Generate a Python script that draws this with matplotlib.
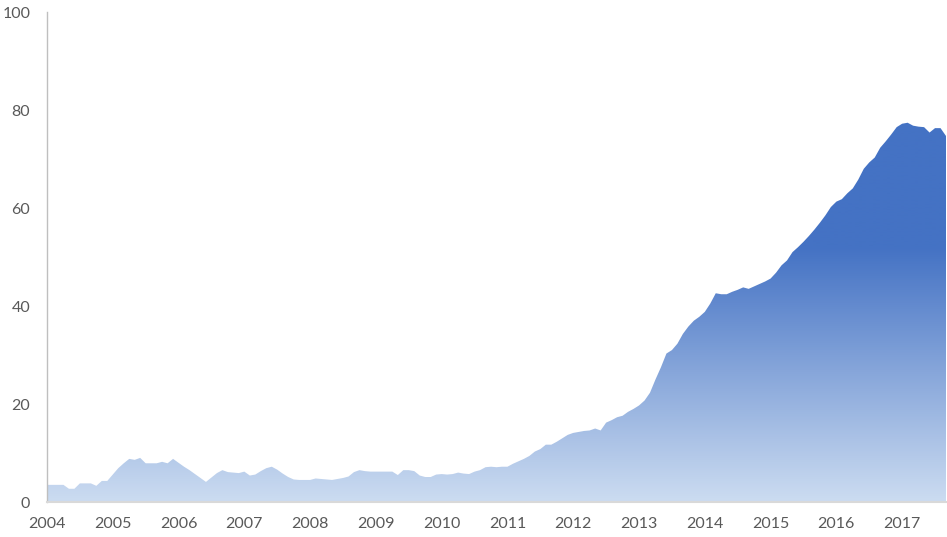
import numpy as np
import matplotlib
matplotlib.use("Agg")
from matplotlib import pyplot as plt
from matplotlib.colors import LinearSegmentedColormap
from matplotlib.patches import PathPatch

# monthly values, Jan 2004 .. Sep 2017
y2004 = [3.5, 3.5, 3.5, 3.5, 2.7, 2.7, 3.8, 3.8, 3.8, 3.3, 4.3, 4.3]
y2005 = [5.6, 6.9, 7.9, 8.8, 8.6, 9.0, 7.9, 7.9, 7.9, 8.2, 7.9, 8.8]
y2006 = [8.0, 7.2, 6.5, 5.7, 4.9, 4.1, 5.0, 5.9, 6.5, 6.1, 6.0, 5.9]
y2007 = [6.2, 5.4, 5.6, 6.3, 6.9, 7.2, 6.6, 5.8, 5.1, 4.6, 4.5, 4.5]
y2008 = [4.5, 4.8, 4.7, 4.6, 4.5, 4.7, 4.9, 5.2, 6.1, 6.5, 6.3, 6.2]
y2009 = [6.2, 6.2, 6.2, 6.2, 5.5, 6.5, 6.5, 6.3, 5.4, 5.1, 5.1, 5.6]
y2010 = [5.7, 5.6, 5.7, 6.0, 5.8, 5.7, 6.2, 6.5, 7.1, 7.2, 7.1, 7.2]
y2011 = [7.2, 7.8, 8.3, 8.8, 9.4, 10.3, 10.8, 11.7, 11.7, 12.3, 13.0, 13.7]
y2012 = [14.1, 14.3, 14.5, 14.6, 15.0, 14.6, 16.2, 16.7, 17.3, 17.6, 18.4, 19.0]
y2013 = [19.7, 20.7, 22.3, 25.0, 27.5, 30.3, 31.0, 32.3, 34.3, 35.8, 37.0, 37.8]
y2014 = [38.8, 40.5, 42.6, 42.4, 42.4, 42.9, 43.3, 43.8, 43.5, 44.0, 44.5, 45.0]
y2015 = [45.6, 46.8, 48.3, 49.3, 51.0, 52.0, 53.1, 54.3, 55.6, 57.0, 58.5, 60.2]
y2016 = [61.3, 61.8, 63.0, 64.0, 65.8, 68.0, 69.3, 70.3, 72.3, 73.6, 75.0, 76.5]
y2017 = [77.2, 77.4, 76.8, 76.6, 76.5, 75.4, 76.3, 76.3, 74.7]

values = np.array(y2004 + y2005 + y2006 + y2007 + y2008 + y2009 + y2010
                  + y2011 + y2012 + y2013 + y2014 + y2015 + y2016 + y2017)
years = list(range(2004, 2018))
months = np.arange(len(values))

plt.rcParams['font.family'] = ['Lato', 'DejaVu Sans']

fig = plt.figure(figsize=(9.47, 5.37), dpi=100)
ax = fig.add_axes([47 / 947, 1 - 502 / 537, (946 - 47) / 947, (502 - 12) / 537])

# area shape, used only as a clip for the gradient
fill = ax.fill_between(months, values, 0, facecolor='none', edgecolor='none')
area = fill.get_paths()[0]

cmap = LinearSegmentedColormap.from_list(
    'blues', [(0.0, '#CCDCF1'), (0.52, '#4472C4'), (1.0, '#4472C4')])
grad = np.linspace(0, 1, 512).reshape(-1, 1)
img = ax.imshow(grad, extent=[0, len(values) - 1, 0, 100], origin='lower',
                aspect='auto', cmap=cmap, interpolation='bilinear', zorder=1)
clip = PathPatch(area, transform=ax.transData, facecolor='none', edgecolor='none')
ax.add_patch(clip)
img.set_clip_path(clip)

ax.set_xlim(0, len(values) - 1)
ax.set_ylim(0, 100)
ax.set_xticks([12 * i for i in range(len(years))])
ax.set_xticklabels([str(y) for y in years])
ax.set_yticks(range(0, 101, 20))
ax.tick_params(axis='both', length=0, colors='#595959', labelsize=11.5)
ax.tick_params(axis='x', pad=11)
ax.tick_params(axis='y', pad=12)

for side in ['top', 'right']:
    ax.spines[side].set_visible(False)
ax.spines['left'].set_color('#BFBFBF')
ax.spines['left'].set_linewidth(1.0)
ax.spines['bottom'].set_color('#D9D9D9')
ax.spines['bottom'].set_linewidth(1.5)
ax.spines['bottom'].set_zorder(3)

fig.savefig('out.png', dpi=100)
